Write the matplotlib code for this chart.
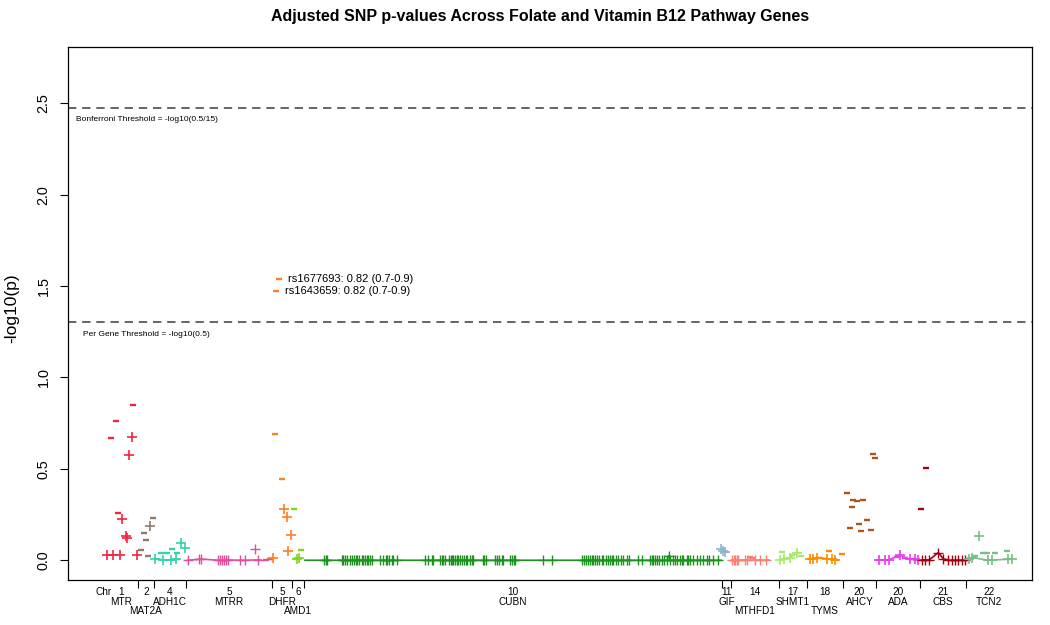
import matplotlib
matplotlib.use("Agg")
import matplotlib.pyplot as plt
from matplotlib.transforms import blended_transform_factory

plt.rcParams['font.family'] = ['Liberation Sans', 'DejaVu Sans']

# ---------------- data ----------------
gene_names = ["MTR", "MAT2A", "ADH1C", "MTRR", "DHFR", "AMD1", "CUBN", "GIF",
              "MTHFD1", "SHMT1", "TYMS", "AHCY", "ADA", "CBS", "TCN2"]
gene_chr = ["1", "2", "4", "5", "5", "6", "10", "11", "14", "17", "18", "20", "20", "21", "22"]
gene_start = [105, 137.7, 154, 186, 272, 292, 304, 722, 731, 779, 807, 843, 876, 920, 966]
gene_end = [137.7, 154, 186, 272, 292, 304, 722, 731, 779, 807, 843, 876, 920, 966, 1012]
gene_row = [2, 3, 2, 2, 2, 3, 2, 2, 3, 2, 3, 2, 2, 2, 2]
gene_colors = ["#F2243F", "#8B7D6B", "#33D3AA", "#E0509A", "#FF7F24", "#7FD61F", "#1E921E",
               "#8DB6CD", "#FA8072", "#A6EB62", "#FF8C00", "#A8541C", "#E83CEE", "#A30012", "#78BE88"]
gene_line = [False, False, True, True, False, True, True, True, True, True, True, False, True, True, True]

mtr_pos = [133.3, 116, 111.3, 131.7, 129.3, 118.3, 122.3, 125.7, 127.3, 106.7, 112.7, 120, 136.7]
mtr_val = [0.85, 0.763, 0.668, 0.674, 0.575, 0.257, 0.224, 0.133, 0.124, 0.027, 0.027, 0.027, 0.027]
mtr_mark = "mmmppmppppppp"

mat2a_pos = [152.7, 150.3, 143.8, 146, 140.5, 147.7]
mat2a_val = [0.233, 0.188, 0.147, 0.112, 0.055, 0.024]
mat2a_mark = "mpmmmm"

adh1c_pos = [155, 160.7, 163.3, 166.7, 171, 172.3, 176, 177.3, 180.7, 185]
adh1c_val = [0.009, 0.037, 0.002, 0.042, 0.002, 0.062, 0.005, 0.038, 0.093, 0.069]
adh1c_mark = "pmpmpmpmpp"

mtrr_pos = [187.5, 198.5, 200.5, 218, 220, 222, 224, 226, 228, 240, 245, 254.5, 258, 266, 270]
mtrr_val = [0.0, 0.005, 0.007, 0.0, 0.0, 0.0, 0.0, 0.0, 0.002, 0.0, 0.0, 0.06, 0.002, 0.002, 0.005]
mtrr_mark = "pppppppppppppmm"

dhfr_pos = [275, 282.3, 284.3, 286.7, 291, 288.3, 273.3]
dhfr_val = [0.689, 0.446, 0.279, 0.237, 0.137, 0.048, 0.015]
dhfr_mark = "mmppppp"

amd1_pos = [294, 300.7, 296.5, 298.5]
amd1_val = [0.279, 0.056, 0.009, 0.012]
amd1_mark = "mmpp"

cubn_pos = [324, 326, 327.3, 341.7, 343.3, 345, 346.7, 350, 352.3, 354, 355.7, 357.3, 359,
            361.7, 363.3, 365, 366.7, 368.3, 370, 371.7, 380, 383.3, 386, 387.3, 389.3, 391.7,
            393.3, 396.7, 425, 428.3, 431.7, 433.3, 440, 441.7, 443.3, 445, 449.3, 450.7, 452,
            453.3, 455, 456.7, 458.3, 460, 462.3, 464, 465.7, 467.3, 470, 471.7, 473.3, 482.7,
            484.3, 486, 495, 496.7, 499.3, 501.7, 503.3, 510, 512, 513.5, 515, 542.7, 551.7,
            581.7, 584, 586, 588.3, 590, 591.7, 593.3, 595, 597.3, 599.3, 601.7, 603.3, 606,
            607.7, 610, 611.7, 613.3, 616, 618.3, 620.7, 623.3, 626.7, 629.3, 638.3, 641.7,
            650, 651.7, 653.3, 655, 657.3, 659.3, 661.7, 664, 666.7, 669, 670, 673.3, 675,
            676.7, 680, 681.7, 683.3, 686.7, 688.3, 690, 692.7, 696.7, 700, 703.3, 706.7,
            709.3, 713.3, 718.3]
cubn_val = [0.0, 0.0, 0.0, 0.0, 0.0, 0.0, 0.0, 0.0, 0.0, 0.0, 0.0, 0.0, 0.0,
            0.0, 0.0, 0.0, 0.0, 0.0, 0.0, 0.0, 0.0, 0.0, 0.0, 0.0, 0.0, 0.0,
            0.0, 0.0, 0.0, 0.0, 0.0, 0.0, 0.0, 0.0, 0.0, 0.0, 0.0, 0.0, 0.002,
            0.0, 0.0, 0.0, 0.0, 0.0, 0.0, 0.0, 0.0, 0.0, 0.0, 0.0, 0.0, 0.0,
            0.0, 0.0, 0.0, 0.0, 0.0, 0.0, 0.0, 0.0, 0.0, 0.0, 0.0, 0.0, 0.0,
            0.0, 0.0, 0.0, 0.0, 0.0, 0.0, 0.0, 0.0, 0.0, 0.0, 0.0, 0.0, 0.0,
            0.0, 0.0, 0.0, 0.0, 0.0, 0.0, 0.0, 0.0, 0.0, 0.0, 0.0, 0.0,
            0.0, 0.0, 0.0, 0.0, 0.0, 0.0, 0.0, 0.0, 0.0, 0.025, 0.0, 0.0, 0.0,
            0.0, 0.0, 0.0, 0.0, 0.0, 0.0, 0.0, 0.0, 0.0, 0.0, 0.0, 0.0,
            0.0, 0.0, 0.0]
cubn_mark = "p" * len(cubn_pos)

gif_pos = [721, 723, 725]
gif_val = [0.062, 0.05, 0.044]
gif_mark = "ppp"

mthfd1_pos = [732, 733.5, 735, 736.5, 738, 745, 747, 750, 751.5, 755, 760, 766]
mthfd1_val = [0.0, 0.0, 0.0, 0.0, 0.0, 0.0, 0.0, 0.018, 0.015, 0.0, 0.0, 0.0]
mthfd1_mark = "pppppppmmppp"

shmt1_pos = [780, 782, 784, 790, 792, 797, 801]
shmt1_val = [0.002, 0.045, 0.005, 0.015, 0.03, 0.042, 0.024]
shmt1_mark = "pmppmpm"

tyms_pos = [810, 812.5, 816.5, 820, 826.5, 829, 831.5, 835, 842]
tyms_val = [0.009, 0.009, 0.015, 0.01, 0.009, 0.048, 0.005, 0.0, 0.036]
tyms_mark = "pppmpmppm"

ahcy_pos = [847.3, 853.3, 856.7, 863.3, 851.7, 866.7, 859, 850, 861, 870.7, 872.7, 875]
ahcy_val = [0.37, 0.328, 0.324, 0.328, 0.293, 0.22, 0.197, 0.177, 0.16, 0.164, 0.579, 0.557]
ahcy_mark = "mmmmmmmmmmmm"

ada_pos = [879, 885, 888.5, 896.5, 900, 905, 910, 915, 918]
ada_val = [0.002, 0.002, 0.002, 0.02, 0.027, 0.01, 0.005, 0.005, 0.002]
ada_mark = "pppmpmppp"

cbs_pos = [925.7, 921, 921.7, 925, 929.3, 938.3, 943.3, 948.3, 951.7, 955, 958.3, 961.7, 965]
cbs_val = [0.504, 0.279, 0.002, 0.002, 0.002, 0.042, 0.008, 0.0, 0.0, 0.0, 0.0, 0.0, 0.0]
cbs_mark = "mmppppppppppp"

tcn2_pos = [969.3, 971.7, 975, 979, 983.3, 986.7, 988.3, 991.7, 995, 1006.7, 1008.3, 1011.7]
tcn2_val = [0.008, 0.015, 0.024, 0.133, 0.038, 0.04, 0.0, 0.002, 0.038, 0.051, 0.005, 0.007]
tcn2_mark = "ppmpmmppmmpp"

snp_pos = [mtr_pos, mat2a_pos, adh1c_pos, mtrr_pos, dhfr_pos, amd1_pos, cubn_pos, gif_pos,
           mthfd1_pos, shmt1_pos, tyms_pos, ahcy_pos, ada_pos, cbs_pos, tcn2_pos]
snp_val = [mtr_val, mat2a_val, adh1c_val, mtrr_val, dhfr_val, amd1_val, cubn_val, gif_val,
           mthfd1_val, shmt1_val, tyms_val, ahcy_val, ada_val, cbs_val, tcn2_val]
snp_mark = [mtr_mark, mat2a_mark, adh1c_mark, mtrr_mark, dhfr_mark, amd1_mark, cubn_mark, gif_mark,
            mthfd1_mark, shmt1_mark, tyms_mark, ahcy_mark, ada_mark, cbs_mark, tcn2_mark]

bonferroni_y = 2.477
per_gene_y = 1.301
bonferroni_label = "Bonferroni Threshold = -log10(0.5/15)"
per_gene_label = "Per Gene Threshold = -log10(0.5)"

ann_x = [279, 275.7]
ann_y = [1.537, 1.474]
ann_text = ["rs1677693: 0.82 (0.7-0.9)", "rs1643659: 0.82 (0.7-0.9)"]
ann_color = "#FF7F24"

# ---------------- figure ----------------
fig = plt.figure(figsize=(10.5, 6.25), dpi=100)
ax = fig.add_axes([68 / 1050, 1 - 580 / 625, 964 / 1050, 533 / 625])
ax.set_xlim(68, 1032)
ax.set_ylim(-0.108, 2.808)

for i, g in enumerate(gene_names):
    col = gene_colors[i]
    pos, val, mk = snp_pos[i], snp_val[i], snp_mark[i]
    if gene_line[i]:
        pts = sorted((p, v) for p, v, m in zip(pos, val, mk) if m == "p" and v < 0.055)
        lx = [gene_start[i] + 1] + [p for p, _ in pts] + [min(gene_end[i] - 1, pts[-1][0] + 3)]
        ly = [pts[0][1]] + [v for _, v in pts] + [pts[-1][1]]
        ax.plot(lx, ly, color=col, lw=1.2, zorder=2)
    px = [p for p, m in zip(pos, mk) if m == "p"]
    pv = [v for v, m in zip(val, mk) if m == "p"]
    mx = [p for p, m in zip(pos, mk) if m == "m"]
    mv = [v for v, m in zip(val, mk) if m == "m"]
    mw = 1.0 if g in ("CUBN", "MTRR", "MTHFD1", "CBS") else 1.2
    ax.plot(px, pv, linestyle="none", marker="+", markersize=7, mew=mw, color=col, zorder=3)
    ax.plot(mx, mv, linestyle="none", marker="_", markersize=4.5, mew=1.7, color=col, zorder=3)

# threshold lines
for yv in (bonferroni_y, per_gene_y):
    ax.axhline(yv, color="#4a4a4a", lw=1.2, linestyle=(0, (5, 3.5)), zorder=1)
ax.text(76, 2.409, bonferroni_label, fontsize=6, va="center", ha="left")
ax.text(83, 1.236, per_gene_label, fontsize=6, va="center", ha="left")

# annotations
for x, y, t in zip(ann_x, ann_y, ann_text):
    ax.plot([x], [y], linestyle="none", marker="_", markersize=4.5, mew=1.7, color=ann_color)
    ax.annotate(t, xy=(x, y), xytext=(6.5, 0), textcoords="offset points",
                fontsize=8, va="center", ha="left")

# y axis
ax.set_yticks([0.0, 0.5, 1.0, 1.5, 2.0, 2.5])
ax.set_yticklabels(["0.0", "0.5", "1.0", "1.5", "2.0", "2.5"], rotation=90, va="center")
ax.tick_params(axis="y", direction="out", length=5.5, width=0.8, labelsize=10.4, pad=7)
fig.text(12 / 1050, 1 - 308 / 625, "-log10(p)", rotation=90, ha="center", va="center", fontsize=12.5)

# x axis: ticks at gene boundaries
bounds = gene_start[1:]
ax.set_xticks(bounds)
ax.set_xticklabels([])
ax.tick_params(axis="x", direction="out", length=6, width=0.8)

trans = blended_transform_factory(ax.transData, ax.transAxes)
row_off = {1: -8.8, 2: -16.0, 3: -22.5}
ax.annotate("Chr", xy=(104, 0), xycoords=trans, xytext=(0, row_off[1]),
            textcoords="offset points", ha="center", va="center", fontsize=7.2)
for i, g in enumerate(gene_names):
    c = (gene_start[i] + gene_end[i]) / 2
    ax.annotate(gene_chr[i], xy=(c, 0), xycoords=trans, xytext=(0, row_off[1]),
                textcoords="offset points", ha="center", va="center", fontsize=7.2)
    ax.annotate(g, xy=(c, 0), xycoords=trans, xytext=(0, row_off[gene_row[i]]),
                textcoords="offset points", ha="center", va="center", fontsize=7.2)

for s in ax.spines.values():
    s.set_linewidth(0.9)

fig.text(540 / 1050, 1 - 17 / 625, "Adjusted SNP p-values Across Folate and Vitamin B12 Pathway Genes",
         ha="center", va="center", fontsize=11.5, fontweight="bold")

fig.savefig("out.png", dpi=100)
